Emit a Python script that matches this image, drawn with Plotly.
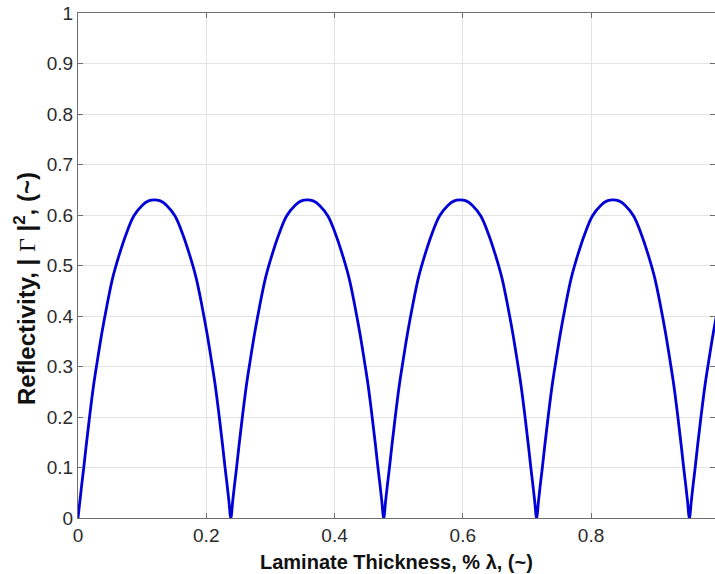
import plotly.graph_objects as go

# Laminate thickness (fraction of wavelength) and reflectivity
thickness = [
    0.0, 0.003, 0.006, 0.009, 0.013, 0.018, 0.024, 0.030, 0.037, 0.045, 0.054, 0.064, 0.075, 0.087, 0.100, 0.110,
    0.1192,
    0.1283, 0.1383, 0.1513, 0.1633, 0.1743, 0.1843, 0.1933, 0.2013, 0.2083, 0.2143, 0.2203, 0.2253, 0.2293, 0.2323, 0.2353, 0.2383,
    0.2413, 0.2443, 0.2473, 0.2513, 0.2563, 0.2623, 0.2683, 0.2753, 0.2833, 0.2923, 0.3023, 0.3133, 0.3253, 0.3383, 0.3483,
    0.3575,
    0.3667, 0.3767, 0.3897, 0.4017, 0.4127, 0.4227, 0.4317, 0.4397, 0.4467, 0.4527, 0.4587, 0.4637, 0.4677, 0.4707, 0.4737, 0.4767,
    0.4797, 0.4827, 0.4857, 0.4897, 0.4947, 0.5007, 0.5067, 0.5137, 0.5217, 0.5307, 0.5407, 0.5517, 0.5637, 0.5767, 0.5867,
    0.5959,
    0.6051, 0.6151, 0.6281, 0.6401, 0.6511, 0.6611, 0.6701, 0.6781, 0.6851, 0.6911, 0.6971, 0.7021, 0.7061, 0.7091, 0.7121, 0.7151,
    0.7181, 0.7211, 0.7241, 0.7281, 0.7331, 0.7391, 0.7451, 0.7521, 0.7601, 0.7691, 0.7791, 0.7901, 0.8021, 0.8151, 0.8251,
    0.8343,
    0.8434, 0.8534, 0.8664, 0.8784, 0.8894, 0.8994, 0.9084, 0.9164, 0.9234, 0.9294, 0.9354, 0.9404, 0.9444, 0.9474, 0.9504, 0.9534,
    0.9564, 0.9594, 0.9624, 0.9664, 0.9714, 0.9774, 0.9834, 0.9904, 0.9984,
]
reflectivity = [
    0.0, 0.034, 0.068, 0.100, 0.146, 0.200, 0.260, 0.310, 0.365, 0.420, 0.475, 0.520, 0.562, 0.598, 0.619, 0.628,
    0.630,
    0.628, 0.619, 0.598, 0.562, 0.520, 0.475, 0.420, 0.365, 0.310, 0.260, 0.200, 0.146, 0.100, 0.068, 0.034, 0.0,
    0.034, 0.068, 0.100, 0.146, 0.200, 0.260, 0.310, 0.365, 0.420, 0.475, 0.520, 0.562, 0.598, 0.619, 0.628,
    0.630,
    0.628, 0.619, 0.598, 0.562, 0.520, 0.475, 0.420, 0.365, 0.310, 0.260, 0.200, 0.146, 0.100, 0.068, 0.034, 0.0,
    0.034, 0.068, 0.100, 0.146, 0.200, 0.260, 0.310, 0.365, 0.420, 0.475, 0.520, 0.562, 0.598, 0.619, 0.628,
    0.630,
    0.628, 0.619, 0.598, 0.562, 0.520, 0.475, 0.420, 0.365, 0.310, 0.260, 0.200, 0.146, 0.100, 0.068, 0.034, 0.0,
    0.034, 0.068, 0.100, 0.146, 0.200, 0.260, 0.310, 0.365, 0.420, 0.475, 0.520, 0.562, 0.598, 0.619, 0.628,
    0.630,
    0.628, 0.619, 0.598, 0.562, 0.520, 0.475, 0.420, 0.365, 0.310, 0.260, 0.200, 0.146, 0.100, 0.068, 0.034, 0.0,
    0.034, 0.068, 0.100, 0.146, 0.200, 0.260, 0.310, 0.365, 0.420,
]

x_title = "Laminate Thickness, % λ, (~)"
y_title = ("Reflectivity, | <span style=\"font-family:'Liberation Serif';font-weight:normal\">Γ</span> |"
           "<sup>2</sup>, (~)")

axis_color = "#6e6e6e"
grid_color = "#e3e3e3"
tick_font = dict(family="Liberation Sans, Arial, sans-serif", size=19, color="#2b2b2b")

fig = go.Figure()
fig.add_trace(go.Scatter(
    x=thickness, y=reflectivity, mode="lines",
    line=dict(color="rgb(0,0,215)", width=2.8, shape="spline", smoothing=1.0),
    showlegend=False, hoverinfo="skip",
))

fig.update_layout(
    width=715, height=574,
    margin=dict(l=78, r=0, t=13, b=56),
    paper_bgcolor="white", plot_bgcolor="white",
    xaxis=dict(
        range=[0, 0.9933], dtick=0.2, tick0=0,
        showgrid=True, gridcolor=grid_color, gridwidth=1,
        showline=True, linecolor=axis_color, linewidth=1.3, mirror="ticks",
        ticks="inside", ticklen=5, tickcolor=axis_color, tickwidth=1.3,
        tickfont=tick_font, zeroline=False,
    ),
    yaxis=dict(
        range=[0, 1], dtick=0.1, tick0=0,
        showgrid=True, gridcolor=grid_color, gridwidth=1,
        showline=True, linecolor=axis_color, linewidth=1.3, mirror="ticks",
        ticks="inside", ticklen=5, tickcolor=axis_color, tickwidth=1.3,
        tickfont=tick_font, zeroline=False,
    ),
    annotations=[
        dict(text="<b>" + x_title + "</b>", xref="paper", yref="paper",
             x=0.5, y=-0.087, xanchor="center", yanchor="middle", showarrow=False,
             font=dict(family="Liberation Sans, Arial, sans-serif", size=20, color="#111111")),
        dict(text="<b>" + y_title + "</b>", xref="paper", yref="paper",
             x=-0.0835, y=0.455, xanchor="center", yanchor="middle", showarrow=False,
             textangle=-90,
             font=dict(family="Liberation Sans, Arial, sans-serif", size=24, color="#111111")),
    ],
)

fig.write_html(
    "out.html",
    config={"displayModeBar": False},
    post_script="document.body.style.margin='0';document.body.style.overflow='hidden';",
)
